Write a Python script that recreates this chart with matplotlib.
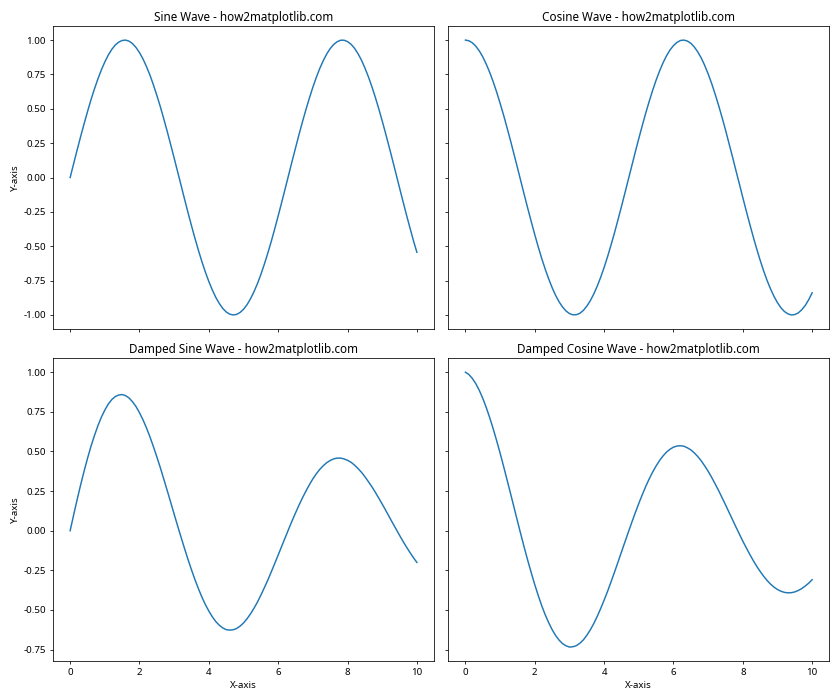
import matplotlib
matplotlib.use("Agg")
import matplotlib.pyplot as plt

plt.rcParams['font.family'] = ['Noto Sans', 'DejaVu Sans']
plt.rcParams['axes.unicode_minus'] = False

x_values = [0.0, 0.1, 0.2, 0.3, 0.4, 0.5, 0.6, 0.7, 0.8, 0.9,
            1.0, 1.1, 1.2, 1.3, 1.4, 1.5, 1.6, 1.7, 1.8, 1.9,
            2.0, 2.1, 2.2, 2.3, 2.4, 2.5, 2.6, 2.7, 2.8, 2.9,
            3.0, 3.1, 3.2, 3.3, 3.4, 3.5, 3.6, 3.7, 3.8, 3.9,
            4.0, 4.1, 4.2, 4.3, 4.4, 4.5, 4.6, 4.7, 4.8, 4.9,
            5.0, 5.1, 5.2, 5.3, 5.4, 5.5, 5.6, 5.7, 5.8, 5.9,
            6.0, 6.1, 6.2, 6.3, 6.4, 6.5, 6.6, 6.7, 6.8, 6.9,
            7.0, 7.1, 7.2, 7.3, 7.4, 7.5, 7.6, 7.7, 7.8, 7.9,
            8.0, 8.1, 8.2, 8.3, 8.4, 8.5, 8.6, 8.7, 8.8, 8.9,
            9.0, 9.1, 9.2, 9.3, 9.4, 9.5, 9.6, 9.7, 9.8, 9.9,
            10.0]

sine_values = [0.000, 0.100, 0.199, 0.296, 0.389, 0.479, 0.565, 0.644, 0.717, 0.783,
               0.841, 0.891, 0.932, 0.964, 0.985, 0.997, 1.000, 0.992, 0.974, 0.946,
               0.909, 0.863, 0.808, 0.746, 0.675, 0.598, 0.516, 0.427, 0.335, 0.239,
               0.141, 0.042, -0.058, -0.158, -0.256, -0.351, -0.443, -0.530, -0.612, -0.688,
               -0.757, -0.818, -0.872, -0.916, -0.952, -0.978, -0.994, -1.000, -0.996, -0.982,
               -0.959, -0.926, -0.883, -0.832, -0.773, -0.706, -0.631, -0.551, -0.465, -0.374,
               -0.279, -0.182, -0.083, 0.017, 0.117, 0.215, 0.312, 0.405, 0.494, 0.578,
               0.657, 0.729, 0.794, 0.850, 0.899, 0.938, 0.968, 0.988, 0.999, 0.999,
               0.989, 0.970, 0.941, 0.902, 0.855, 0.798, 0.734, 0.663, 0.585, 0.501,
               0.412, 0.319, 0.223, 0.125, 0.025, -0.075, -0.174, -0.272, -0.366, -0.458,
               -0.544]

cosine_values = [1.000, 0.995, 0.980, 0.955, 0.921, 0.878, 0.825, 0.765, 0.697, 0.622,
                 0.540, 0.454, 0.362, 0.268, 0.170, 0.071, -0.029, -0.129, -0.227, -0.323,
                 -0.416, -0.505, -0.589, -0.666, -0.737, -0.801, -0.857, -0.904, -0.942, -0.971,
                 -0.990, -0.999, -0.998, -0.988, -0.967, -0.936, -0.897, -0.848, -0.791, -0.726,
                 -0.654, -0.575, -0.490, -0.401, -0.307, -0.211, -0.112, -0.012, 0.087, 0.187,
                 0.284, 0.378, 0.469, 0.554, 0.635, 0.709, 0.776, 0.835, 0.886, 0.928,
                 0.960, 0.983, 0.997, 1.000, 0.993, 0.977, 0.950, 0.914, 0.870, 0.816,
                 0.754, 0.685, 0.608, 0.526, 0.438, 0.347, 0.249, 0.153, 0.052, -0.046,
                 -0.146, -0.244, -0.339, -0.431, -0.519, -0.602, -0.679, -0.749, -0.811, -0.865,
                 -0.911, -0.948, -0.975, -0.992, -1.000, -0.997, -0.985, -0.962, -0.931, -0.889,
                 -0.839]

damped_sine_values = [0.000, 0.099, 0.195, 0.287, 0.374, 0.456, 0.532, 0.600, 0.662, 0.716,
                      0.761, 0.799, 0.827, 0.846, 0.856, 0.859, 0.852, 0.837, 0.813, 0.783,
                      0.744, 0.700, 0.649, 0.593, 0.531, 0.466, 0.398, 0.326, 0.253, 0.179,
                      0.104, 0.030, -0.042, -0.113, -0.182, -0.247, -0.309, -0.366, -0.419, -0.466,
                      -0.507, -0.543, -0.573, -0.596, -0.613, -0.624, -0.627, -0.625, -0.617, -0.602,
                      -0.582, -0.556, -0.525, -0.490, -0.451, -0.407, -0.360, -0.312, -0.260, -0.207,
                      -0.153, -0.099, -0.045, 0.009, 0.062, 0.112, 0.161, 0.207, 0.250, 0.290,
                      0.327, 0.359, 0.387, 0.410, 0.429, 0.443, 0.453, 0.458, 0.458, 0.453,
                      0.444, 0.432, 0.414, 0.393, 0.369, 0.341, 0.310, 0.278, 0.243, 0.206,
                      0.168, 0.129, 0.089, 0.049, 0.010, -0.029, -0.067, -0.103, -0.137, -0.170,
                      -0.200]

damped_cosine_values = [1.000, 0.985, 0.960, 0.927, 0.885, 0.835, 0.777, 0.713, 0.643, 0.568,
                        0.489, 0.406, 0.321, 0.235, 0.148, 0.061, -0.025, -0.109, -0.190, -0.267,
                        -0.341, -0.409, -0.473, -0.530, -0.580, -0.624, -0.661, -0.690, -0.712, -0.726,
                        -0.734, -0.732, -0.725, -0.710, -0.689, -0.660, -0.626, -0.586, -0.541, -0.491,
                        -0.438, -0.382, -0.322, -0.261, -0.198, -0.134, -0.071, -0.008, 0.054, 0.114,
                        0.172, 0.227, 0.279, 0.327, 0.370, 0.409, 0.443, 0.472, 0.496, 0.514,
                        0.527, 0.534, 0.536, 0.533, 0.523, 0.510, 0.491, 0.468, 0.441, 0.409,
                        0.375, 0.337, 0.296, 0.254, 0.209, 0.164, 0.117, 0.071, 0.024, -0.021,
                        -0.066, -0.108, -0.149, -0.188, -0.224, -0.257, -0.287, -0.314, -0.337, -0.356,
                        -0.371, -0.382, -0.389, -0.392, -0.391, -0.386, -0.377, -0.365, -0.349, -0.331,
                        -0.309]

titles = ["Sine Wave - how2matplotlib.com", "Cosine Wave - how2matplotlib.com",
          "Damped Sine Wave - how2matplotlib.com", "Damped Cosine Wave - how2matplotlib.com"]
series = [sine_values, cosine_values, damped_sine_values, damped_cosine_values]

fig, axes = plt.subplots(2, 2, figsize=(12, 10), dpi=70, sharex=True, sharey='row')
for ax, title, ys in zip(axes.flat, titles, series):
    ax.plot(x_values, ys, color='#1f77b4', linewidth=1.5)
    ax.set_title(title, fontsize=12)

axes[0, 0].set_ylabel('Y-axis')
axes[1, 0].set_ylabel('Y-axis')
axes[1, 0].set_xlabel('X-axis')
axes[1, 1].set_xlabel('X-axis')

fig.tight_layout()
fig.savefig('out.png', dpi=70)
